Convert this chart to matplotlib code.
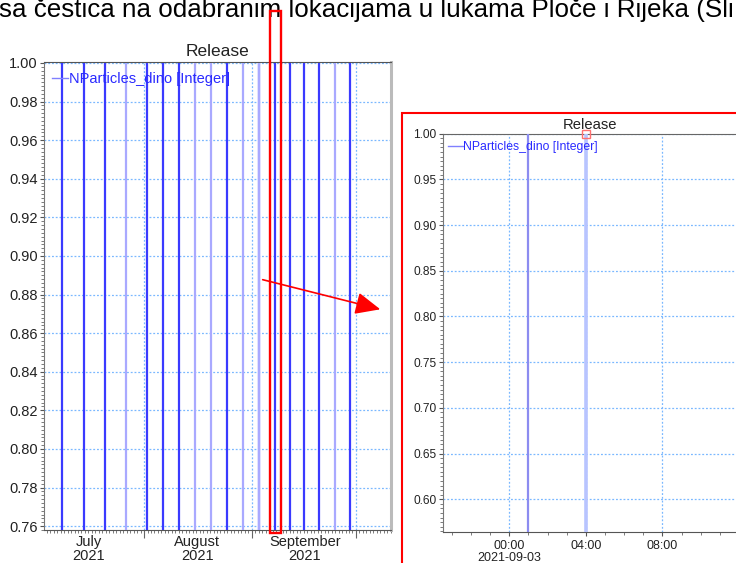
import matplotlib
matplotlib.use('Agg')
import matplotlib.pyplot as plt
import matplotlib.dates as mdates
import pandas as pd
from matplotlib.patches import Rectangle, FancyArrowPatch
from matplotlib.ticker import MultipleLocator, NullFormatter, FuncFormatter

plt.rcParams['font.family'] = ['Liberation Sans', 'DejaVu Sans']

# --- podaci ---
caption = "sa čestica na odabranim lokacijama u lukama Ploče i Rijeka (Sli"
series_label = "NParticles_dino [Integer]"
release_times = pd.to_datetime([
    '2021-07-08 10:00', '2021-07-14 17:00', '2021-07-20 19:00', '2021-07-26 20:00',
    '2021-08-01 21:00', '2021-08-06 11:00', '2021-08-11 02:00', '2021-08-15 16:00',
    '2021-08-20 07:00', '2021-08-24 21:00', '2021-08-29 12:00', '2021-09-03 01:00',
    '2021-09-03 04:00', '2021-09-07 14:00', '2021-09-11 21:00', '2021-09-16 03:00',
    '2021-09-20 10:00', '2021-09-25 00:00', '2021-09-29 07:00',
])
n_particles = [1, 1, 1, 1, 1, 1, 1, 1, 1, 1, 1, 1, 1, 1, 1, 1, 1, 1, 1]
# jacina linije (kako izgleda na slici)
line_light = [0, 0, 0, 1, 0, 0, 0, 1, 1, 0, 1, 0, 1, 0, 0, 0, 0, 1, 0]

month_starts = pd.to_datetime(['2021-07-01 00:00', '2021-08-01 00:00', '2021-09-01 00:00',
                               '2021-10-01 00:00'])
month_labels = ['July\n2021', 'August\n2021', 'September\n2021']
month_label_pos = pd.to_datetime(['2021-07-16 00:00', '2021-08-16 08:00', '2021-09-16 06:00'])

left_xlim = pd.to_datetime(['2021-07-03 05:00', '2021-10-11 02:00'])
left_yticks = [0.76, 0.78, 0.80, 0.82, 0.84, 0.86, 0.88, 0.90, 0.92, 0.94, 0.96, 0.98, 1.00]
right_xlim = pd.to_datetime(['2021-09-02 20:31', '2021-09-03 11:54'])
right_yticks = [0.60, 0.65, 0.70, 0.75, 0.80, 0.85, 0.90, 0.95, 1.00]

W, H = 736, 563
BLUE = '#3a3aff'
LIGHT = '#a9a9ff'
GRID = '#7ab8ff'
TXT = '#222222'

fig = plt.figure(figsize=(W / 100, H / 100), dpi=100)
fig.patch.set_facecolor('white')


def px_axes(l, t, r, b):
    return fig.add_axes([l / W, 1 - b / H, (r - l) / W, (b - t) / H])


t_num = mdates.date2num(release_times.to_pydatetime())

# --- lijevi graf ---
ax = px_axes(44, 62, 391, 530)
for x, v, lt in zip(t_num, n_particles, line_light):
    ax.vlines(x, 0, v, color=LIGHT if lt else BLUE, lw=1.6, zorder=3)
ax.plot([], [], color='#8080ff', lw=1, label=series_label)
ax.set_yticks(left_yticks)
ax.yaxis.set_major_formatter(FuncFormatter(lambda v, p: f'{v:.2f}'))
ax.yaxis.set_minor_locator(MultipleLocator(0.002))
ax.set_xticks(mdates.date2num(month_starts.to_pydatetime()))
ax.xaxis.set_major_formatter(NullFormatter())
ax.xaxis.set_minor_locator(mdates.DayLocator())
# granice tek nakon set_xticks (inace se prosire na 1. srpnja)
ax.set_xlim(mdates.date2num(left_xlim.to_pydatetime()))
ax.set_ylim(0.7580, 1.0005)
ax.tick_params(axis='y', which='major', length=3, width=0.8, pad=1.5, labelsize=10.5,
               labelcolor=TXT, color='#555')
ax.tick_params(axis='y', which='minor', length=2, width=0.6, color='#666')
ax.tick_params(axis='x', which='major', length=6, width=0.8, color='#666')
ax.tick_params(axis='x', which='minor', length=2, width=0.6, color='#666')
ax.grid(True, which='major', color=GRID, ls=(0, (1.5, 1.5)), lw=0.9)
for lbl, pos in zip(month_labels, mdates.date2num(month_label_pos.to_pydatetime())):
    ax.text(pos, -0.011, lbl, transform=ax.get_xaxis_transform(), ha='center', va='top',
            fontsize=10.5, color=TXT, linespacing=1.0)
ax.spines['top'].set_color('#555')
ax.spines['left'].set_color('#777')
ax.spines['bottom'].set_color('#555')
ax.spines['right'].set_color('#bbbbbb')
ax.spines['right'].set_linewidth(2.2)
ax.set_title('Release', fontsize=12.5, pad=4.3, color=TXT)
ax.legend(loc='upper left', bbox_to_anchor=(0.023, 0.979), borderaxespad=0, borderpad=0,
          frameon=False, fontsize=10.5, handlelength=1.1, handletextpad=0.05,
          labelcolor='#2a2aff')

# --- desni graf (uvecano) ---
ax2 = px_axes(442.7, 133.7, 737, 532)
for x, v, lt in zip(t_num, n_particles, line_light):
    ax2.vlines(x, 0, v, color='#b8c4ff' if lt else '#8c8cf0', lw=2.6 if lt else 1.6, zorder=3)
ax2.plot(t_num[12], 1.0, marker='s', ms=6, mfc='none', mec='#ff7070', mew=1, zorder=5,
         clip_on=False)
ax2.plot([], [], color='#8080ff', lw=1, label=series_label)
ax2.set_yticks(right_yticks)
ax2.yaxis.set_major_formatter(FuncFormatter(lambda v, p: f'{v:.2f}'))
ax2.yaxis.set_minor_locator(MultipleLocator(0.005))
ax2.xaxis.set_major_locator(mdates.HourLocator(byhour=[0, 4, 8, 12, 16, 20]))
ax2.xaxis.set_minor_locator(mdates.HourLocator())
ax2.set_xlim(mdates.date2num(right_xlim.to_pydatetime()))
ax2.set_ylim(0.5642, 1.0)


def hour_fmt(x, pos):
    d = mdates.num2date(x)
    s = d.strftime('%H:%M')
    if d.hour == 0:
        s += '\n' + d.strftime('%Y-%m-%d')
    return s


ax2.xaxis.set_major_formatter(FuncFormatter(hour_fmt))
ax2.tick_params(axis='y', which='major', length=3, width=0.8, pad=1.5, labelsize=8.6,
                labelcolor=TXT, color='#555')
ax2.tick_params(axis='y', which='minor', length=2, width=0.6, color='#666')
ax2.tick_params(axis='x', which='major', length=3, width=0.8, pad=2.5, labelsize=9,
                labelcolor=TXT, color='#555')
ax2.tick_params(axis='x', which='minor', length=2, width=0.6, color='#666')
for t in ax2.get_xticklabels():
    t.set_linespacing(1.0)
ax2.grid(True, which='major', color=GRID, ls=(0, (1.5, 1.5)), lw=0.9)
ax2.spines['top'].set_color('#666')
ax2.spines['left'].set_color('#777')
ax2.spines['bottom'].set_color('#555')
ax2.set_title('Release', fontsize=10.6, pad=3.2, color=TXT)
ax2.legend(loc='upper left', bbox_to_anchor=(0.018, 0.982), borderaxespad=0, borderpad=0,
           frameon=False, fontsize=8.8, handlelength=1.2, handletextpad=0.05,
           labelcolor='#2a2aff')

# --- oznake preko slike ---
fig.text(-0.002, 1 - 17.5 / H, caption, fontsize=18.7, va='baseline', color='black')
fig.add_artist(Rectangle((270 / W, 1 - 533 / H), 11 / W, 522 / H, transform=fig.transFigure,
                         fill=False, ec='red', lw=1.7, zorder=10))
fig.add_artist(Rectangle((402 / W, 1 - 575 / H), 345 / W, 462 / H, transform=fig.transFigure,
                         fill=False, ec='red', lw=1.5, zorder=10))
fig.add_artist(FancyArrowPatch((260 / W, 1 - 279 / H), (383 / W, 1 - 310 / H),
                               transform=fig.transFigure, color='red', lw=1.2,
                               arrowstyle='-|>,head_length=0.9,head_width=0.4',
                               mutation_scale=17, zorder=10))

fig.savefig('out.png', dpi=100)
